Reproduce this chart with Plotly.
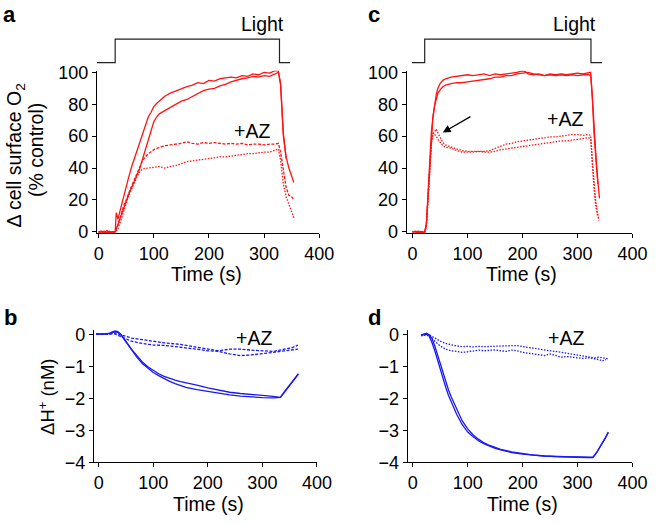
import plotly.graph_objects as go

# ---------------- DATA ----------------
# Panel a: cell surface O2 (% control), control (solid) and +AZ (dashed / dotted)
a_ctrl1_t = [0, 5, 10, 15, 20, 25, 30, 32, 35, 40, 45, 50, 55, 60, 65, 70, 75, 80, 85, 90, 95, 100, 105, 110,
             115, 120, 130, 140, 150, 160, 170, 180, 190, 200, 210, 220, 230, 240, 250, 260, 270, 280, 290,
             300, 310, 320, 326, 330, 335, 340, 345, 350, 354]
a_ctrl1_y = [0, 0.5, -0.5, 0.8, -0.3, 0.2, 0, 12, 8, 15, 22, 28, 35, 41, 46, 51, 56, 62, 67, 72, 75, 78.5, 80.5,
             82, 83.5, 85, 87, 88.5, 90, 91, 92, 93.5, 93, 95, 94.5, 96, 96.5, 97, 96.5, 98, 97.5, 99, 98.5,
             100, 99.5, 101, 101, 92, 60, 47, 40, 35, 31]
a_ctrl2_t = [0, 5, 10, 15, 20, 25, 30, 35, 40, 45, 50, 55, 60, 65, 70, 75, 80, 85, 90, 95, 100, 105, 110, 120,
             130, 140, 150, 160, 170, 180, 190, 200, 210, 220, 230, 240, 250, 260, 270, 280, 290, 300, 310,
             320, 326, 330, 335, 340]
a_ctrl2_y = [-0.5, 0.3, 0.2, -0.6, 0.4, -0.8, 0, 5, 10, 14, 20, 24, 28, 32, 36, 40, 46, 52, 58, 64, 69, 72, 74,
             76, 78, 80, 82, 83, 85, 87, 88.5, 89.5, 90, 91.5, 92.5, 94, 95, 96, 96.5, 97.5, 97, 98, 97.5,
             99, 100, 93, 62, 46]
a_az1_t = [0, 5, 10, 15, 20, 25, 30, 35, 40, 45, 50, 55, 60, 65, 70, 75, 80, 90, 100, 110, 120, 130, 140, 150,
           160, 170, 180, 190, 200, 210, 220, 230, 240, 250, 260, 270, 280, 290, 300, 310, 320, 326, 330, 335,
           340, 345, 350, 355]
a_az1_y = [0, -0.5, 0.4, 0, -0.3, 0.2, 0, 4, 10, 16, 20, 25, 29, 33, 37, 40, 45, 49, 51.5, 53, 54, 54.5, 55,
           55.5, 56.5, 55.5, 55, 56, 55.5, 56, 55.5, 55, 55.5, 55, 55.5, 54.5, 55, 55, 54.5, 55, 55, 55.5, 50,
           38, 28, 23, 22, 20]
a_az2_t = [0, 5, 10, 15, 20, 25, 30, 35, 40, 45, 50, 55, 60, 65, 70, 75, 80, 90, 100, 110, 120, 130, 140, 150,
           160, 170, 180, 190, 200, 210, 220, 230, 240, 250, 260, 270, 280, 290, 300, 310, 320, 326, 330, 335,
           340, 345, 350, 355]
a_az2_y = [0.3, 0, -0.4, 0.2, 0, -0.3, 0, 2, 7, 13, 18, 23, 27, 32, 35, 38, 39.5, 40, 40.5, 41, 40, 41, 41.5,
           43, 44, 44.5, 45, 45.5, 46, 46.5, 47, 47, 47.5, 48, 48.5, 49, 49, 49.5, 50, 50, 51, 52, 45, 30,
           22, 17, 12, 8]

# Panel c
c_ctrl1_t = [0, 5, 10, 15, 20, 22, 25, 28, 31, 34, 37, 40, 43, 46, 50, 55, 60, 70, 80, 90, 100, 110, 120, 130,
             140, 150, 160, 170, 180, 190, 200, 205, 210, 220, 230, 240, 250, 260, 270, 280, 290, 300, 310,
             320, 324, 327, 330, 334, 337, 340]
c_ctrl1_y = [0, 0.4, -0.5, 0.3, -0.2, 0, 5, 25, 45, 62, 72, 80, 86, 90, 93, 95, 96, 97, 97.5, 98, 98.5, 98,
             98.5, 99, 98, 99, 98.5, 99, 99.5, 100, 101, 100.5, 99, 98.5, 99, 98, 99, 98.5, 99, 98.5, 99, 99.5,
             99, 100, 100, 85, 65, 45, 32, 21]
c_ctrl2_t = [0, 5, 10, 15, 20, 22, 25, 28, 31, 34, 37, 40, 43, 46, 50, 55, 60, 70, 80, 90, 100, 110, 120, 130,
             140, 150, 160, 170, 180, 190, 200, 210, 220, 230, 240, 250, 260, 270, 280, 290, 300, 310, 320,
             324, 327, 330, 334, 337]
c_ctrl2_y = [-0.3, 0, 0.4, -0.4, 0, 0, 4, 22, 42, 60, 72, 79, 84, 87, 89, 91, 92, 93, 93.5, 93.5, 94, 94.5, 95,
             95.5, 96, 97, 97, 98, 98, 99, 99.5, 100, 99, 98.5, 98, 98.5, 98, 98.5, 98, 98.5, 98, 98.5, 98.5,
             98, 84, 62, 42, 30]
c_az1_t = [0, 5, 10, 15, 20, 22, 25, 28, 31, 34, 37, 40, 43, 46, 50, 55, 60, 70, 80, 90, 100, 110, 120, 130,
           140, 150, 160, 170, 180, 190, 200, 210, 220, 230, 240, 250, 260, 270, 280, 290, 300, 310, 320, 324,
           327, 330, 333, 336, 339]
c_az1_y = [0, -0.4, 0.3, 0, -0.3, 0, 4, 22, 42, 55, 61, 63, 64.5, 62, 59, 56, 54.5, 53, 52, 51, 50.5, 50.5, 50.5,
           50.5, 51, 52.5, 54, 55, 55.5, 56.5, 57, 57.5, 58, 58.5, 59, 59.5, 59.5, 60, 60.5, 61, 61, 60.5, 61,
           60.5, 45, 30, 20, 13, 7]
c_az2_t = [0, 5, 10, 15, 20, 22, 25, 28, 31, 34, 37, 40, 43, 46, 50, 55, 60, 70, 80, 90, 100, 110, 120, 130,
           140, 150, 160, 170, 180, 190, 200, 210, 220, 230, 240, 250, 260, 270, 280, 290, 300, 310, 320, 324,
           327, 330, 333, 336, 339]
c_az2_y = [0.3, 0, -0.3, 0.2, 0, 0, 3, 20, 40, 55, 62, 61, 60, 58, 56, 54, 53, 52.5, 51, 50, 50, 50, 50.5, 50,
           50, 50.5, 51.5, 52, 52.5, 53, 53.5, 54, 54.5, 55, 55.5, 56, 56.5, 57, 57, 57.5, 58, 58.5, 59, 58.5,
           42, 27, 17, 11, 8]

# Panel b: ΔH+ (nM)
b_ctrl1_t = [-5, 0, 10, 20, 25, 30, 35, 40, 45, 50, 55, 60, 70, 80, 90, 100, 110, 120, 130, 140, 150, 160, 180,
             200, 220, 240, 260, 280, 300, 320, 333, 340, 350, 360, 366]
b_ctrl1_y = [0.03, 0.02, 0.03, 0.04, 0.07, 0.1, 0.08, 0.02, -0.08, -0.2, -0.32, -0.45, -0.65, -0.85, -1.0,
             -1.12, -1.22, -1.3, -1.37, -1.42, -1.47, -1.5, -1.58, -1.66, -1.73, -1.8, -1.84, -1.88, -1.9,
             -1.93, -1.96, -1.8, -1.58, -1.35, -1.22]
b_ctrl2_t = [-5, 0, 10, 20, 25, 30, 35, 40, 45, 50, 55, 60, 70, 80, 90, 100, 110, 120, 130, 140, 150, 160, 180,
             200, 220, 240, 260, 280, 300, 320, 333, 340, 350, 360, 366]
b_ctrl2_y = [0.02, 0.03, 0.02, 0.05, 0.09, 0.12, 0.1, 0.03, -0.1, -0.22, -0.35, -0.48, -0.7, -0.9, -1.05, -1.18,
             -1.28, -1.38, -1.46, -1.53, -1.6, -1.65, -1.72, -1.78, -1.84, -1.88, -1.92, -1.95, -1.97, -1.98,
             -1.96, -1.8, -1.57, -1.36, -1.23]
b_az1_t = [-5, 0, 20, 30, 40, 60, 80, 100, 120, 150, 180, 200, 220, 240, 260, 280, 300, 320, 340, 355, 365]
b_az1_y = [0.02, 0.02, 0.03, 0.06, 0.0, -0.1, -0.15, -0.2, -0.25, -0.3, -0.38, -0.45, -0.5, -0.45, -0.45, -0.48,
           -0.5, -0.52, -0.45, -0.4, -0.32]
b_az2_t = [-5, 0, 20, 30, 40, 60, 80, 100, 120, 150, 180, 200, 220, 240, 260, 280, 300, 320, 340, 355, 365]
b_az2_y = [0.02, 0.02, 0.02, 0.03, -0.05, -0.2, -0.27, -0.32, -0.33, -0.38, -0.45, -0.5, -0.52, -0.6, -0.65,
           -0.63, -0.6, -0.55, -0.5, -0.47, -0.45]

# Panel d
d_ctrl1_t = [15, 20, 25, 28, 30, 35, 40, 45, 50, 55, 60, 65, 70, 75, 80, 90, 95, 100, 110, 120, 130, 140, 150,
             160, 180, 200, 220, 240, 260, 280, 300, 320, 328, 335, 340, 345, 350, 356]
d_ctrl1_y = [0, 0.02, 0.05, 0.02, -0.05, -0.25, -0.5, -0.8, -1.1, -1.4, -1.65, -1.9, -2.1, -2.3, -2.5, -2.82,
             -2.95, -3.05, -3.2, -3.33, -3.42, -3.5, -3.56, -3.61, -3.69, -3.74, -3.78, -3.8, -3.82, -3.83,
             -3.84, -3.84, -3.84, -3.68, -3.55, -3.4, -3.25, -3.05]
d_ctrl2_t = [15, 20, 25, 30, 35, 40, 45, 50, 55, 60, 65, 70, 75, 80, 90, 100, 110, 120, 130, 140, 150, 160, 180,
             200, 220, 240, 260, 280, 300, 320, 328, 335, 340, 345, 350, 356]
d_ctrl2_y = [-0.02, 0.0, 0.02, 0.0, -0.12, -0.35, -0.62, -0.92, -1.22, -1.48, -1.73, -1.95, -2.15, -2.35, -2.7,
             -2.95, -3.14, -3.28, -3.39, -3.47, -3.54, -3.59, -3.67, -3.73, -3.77, -3.8, -3.82, -3.83, -3.84,
             -3.85, -3.85, -3.69, -3.56, -3.41, -3.26, -3.06]
d_az1_t = [15, 20, 25, 30, 35, 40, 50, 60, 70, 80, 90, 100, 110, 120, 130, 140, 150, 160, 170, 180, 190, 200,
           210, 220, 230, 240, 250, 260, 270, 280, 290, 300, 310, 320, 330, 340, 350, 355]
d_az1_y = [-0.02, 0.0, 0.02, 0.0, -0.05, -0.12, -0.2, -0.27, -0.32, -0.35, -0.37, -0.36, -0.38, -0.36, -0.37,
           -0.36, -0.37, -0.36, -0.35, -0.34, -0.34, -0.37, -0.4, -0.42, -0.44, -0.47, -0.5, -0.52, -0.55,
           -0.57, -0.6, -0.62, -0.65, -0.68, -0.72, -0.7, -0.72, -0.75]
d_az2_t = [15, 20, 25, 30, 35, 40, 50, 60, 70, 80, 90, 100, 110, 120, 130, 140, 150, 160, 170, 180, 190, 200,
           210, 220, 230, 240, 250, 260, 270, 280, 290, 300, 310, 320, 330, 340, 345, 352]
d_az2_y = [-0.03, -0.02, 0.0, -0.05, -0.12, -0.22, -0.35, -0.45, -0.5, -0.52, -0.55, -0.53, -0.5, -0.48, -0.5,
           -0.48, -0.47, -0.5, -0.52, -0.48, -0.5, -0.55, -0.57, -0.6, -0.62, -0.65, -0.6, -0.65, -0.7, -0.68,
           -0.7, -0.72, -0.74, -0.72, -0.75, -0.78, -0.82, -0.78]

# Light periods (s): before, on, off, after
light_a_t = [-3, 30, 30, 328, 328, 347]
light_c_t = [-1, 22, 22, 324.5, 324.5, 344.5]
light_level = [0, 0, 1, 1, 0, 0]

x_ticks = [0, 100, 200, 300, 400]
o2_ticks = [0, 20, 40, 60, 80, 100]
h_ticks = [0, -1, -2, -3, -4]

# ---------------- FIGURE ----------------
RED = "rgb(255,20,20)"
BLUE = "rgb(25,25,245)"
FONT = "Liberation Sans, Arial, Helvetica, sans-serif"
TICK = 18
TITLE = 19.5

fig = go.Figure()


def add(t, y, color, dash, xa, ya, width=1.3):
    fig.add_trace(go.Scatter(x=t, y=y, mode="lines", xaxis=xa, yaxis=ya,
                             line=dict(color=color, width=width, dash=dash),
                             hoverinfo="skip", showlegend=False))


add(a_ctrl1_t, a_ctrl1_y, RED, "solid", "x", "y")
add(a_ctrl2_t, a_ctrl2_y, RED, "solid", "x", "y")
add(a_az1_t, a_az1_y, RED, "3px,1.5px", "x", "y")
add(a_az2_t, a_az2_y, RED, "1.5px,1.5px", "x", "y")

add(c_ctrl1_t, c_ctrl1_y, RED, "solid", "x2", "y2")
add(c_ctrl2_t, c_ctrl2_y, RED, "solid", "x2", "y2")
add(c_az1_t, c_az1_y, RED, "1.5px,1.5px", "x2", "y2")
add(c_az2_t, c_az2_y, RED, "1.5px,1.5px", "x2", "y2")

add(b_ctrl1_t, b_ctrl1_y, BLUE, "solid", "x3", "y3")
add(b_ctrl2_t, b_ctrl2_y, BLUE, "solid", "x3", "y3")
add(b_az1_t, b_az1_y, BLUE, "3px,1.5px", "x3", "y3")
add(b_az2_t, b_az2_y, BLUE, "3px,1.5px", "x3", "y3")

add(d_ctrl1_t, d_ctrl1_y, BLUE, "solid", "x4", "y4")
add(d_ctrl2_t, d_ctrl2_y, BLUE, "solid", "x4", "y4")
add(d_az1_t, d_az1_y, BLUE, "1.5px,1.5px", "x4", "y4")
add(d_az2_t, d_az2_y, BLUE, "1.5px,1.5px", "x4", "y4")

add(light_a_t, light_level, "#222", "solid", "x5", "y5", width=1.2)
add(light_c_t, light_level, "#222", "solid", "x6", "y6", width=1.2)

W, H = 664, 525


def xd(p0, p1):
    return [p0 / W, p1 / W]


def yd(top, bottom):
    return [1 - bottom / H, 1 - top / H]


axis_common = dict(showline=True, linecolor="black", linewidth=1, ticks="outside", ticklen=4,
                   tickwidth=1, tickcolor="black", showgrid=False, zeroline=False,
                   tickfont=dict(family=FONT, size=TICK, color="black"))

top_dom = yd(65.0, 233.0)
bot_dom = yd(333.5, 470.5)
light_dom = yd(29.9, 59.1)

fig.update_layout(
    width=W, height=H, autosize=False,
    margin=dict(l=0, r=0, t=0, b=0),
    paper_bgcolor="white", plot_bgcolor="white",
    font=dict(family=FONT, size=TICK, color="black"),
    xaxis=dict(domain=xd(96.6, 325), range=[-3, 400], tickvals=x_ticks, anchor="y", **axis_common),
    yaxis=dict(domain=top_dom, range=[-0.7, 101], tickvals=o2_ticks, anchor="x", **axis_common),
    xaxis2=dict(domain=xd(414.8, 647), range=[-11, 400], tickvals=x_ticks, anchor="y2", **axis_common),
    yaxis2=dict(domain=top_dom, range=[-0.7, 101], tickvals=o2_ticks, anchor="x2", **axis_common),
    xaxis3=dict(domain=xd(93.3, 322.7), range=[-9, 400], tickvals=x_ticks, anchor="y3", **axis_common),
    yaxis3=dict(domain=bot_dom, range=[-4, 0.15], tickvals=h_ticks, anchor="x3", **axis_common),
    xaxis4=dict(domain=xd(415.9, 647), range=[-9.5, 400], tickvals=x_ticks, anchor="y4", **axis_common),
    yaxis4=dict(domain=bot_dom, range=[-4, 0.15], tickvals=h_ticks, anchor="x4", **axis_common),
    xaxis5=dict(domain=xd(96.6, 325), range=[-3, 400], visible=False, anchor="y5"),
    yaxis5=dict(domain=light_dom, range=[-0.1, 1.1], visible=False, anchor="x5"),
    xaxis6=dict(domain=xd(414.8, 647), range=[-11, 400], visible=False, anchor="y6"),
    yaxis6=dict(domain=light_dom, range=[-0.1, 1.1], visible=False, anchor="x6"),
)


def ann_px(text, x, y, size=TITLE, bold=False, angle=0, xanchor="center", yanchor="middle"):
    fig.add_annotation(text=("<b>%s</b>" % text) if bold else text, x=x / W, y=1 - y / H,
                       xref="paper", yref="paper", showarrow=False, textangle=angle,
                       xanchor=xanchor, yanchor=yanchor,
                       font=dict(family=FONT, size=size, color="black"))


# panel letters
ann_px("a", 7, 7, size=22, bold=True)
ann_px("c", 381, 7, size=22, bold=True)
ann_px("b", 8, 321, size=22, bold=True)
ann_px("d", 382, 321, size=22, bold=True)

# Light labels
ann_px("Light", 266.5, 17)
ann_px("Light", 587, 17)

# axis titles
ann_px("Δ cell surface O<sub>2</sub>", 13, 153, angle=-90)
ann_px("(% control)", 34, 147, angle=-90)
ann_px("ΔH<sup>+</sup> (nM)", 45, 403, size=18.5, angle=-90)
ann_px("Time (s)", 209, 275)
ann_px("Time (s)", 533, 275)
ann_px("Time (s)", 211, 514)
ann_px("Time (s)", 534, 514)

# +AZ labels in data coordinates
for xr, yr, xv, yv in [("x", "y", 279, 63.5), ("x2", "y2", 277, 71), ("x3", "y3", 284, -0.1),
                       ("x4", "y4", 279, -0.1)]:
    fig.add_annotation(text="+AZ", x=xv, y=yv, xref=xr, yref=yr, showarrow=False,
                       font=dict(family=FONT, size=TITLE, color="black"))

# arrow in panel c
fig.add_annotation(x=55, y=62.3, ax=108, ay=72.8, xref="x2", yref="y2", axref="x2", ayref="y2",
                   showarrow=True, arrowhead=2, arrowsize=1.3, arrowwidth=1.2, arrowcolor="black", text="")

# place the 664x525 figure at the page origin (no default body margin)
fig.write_html("out.html", config={"displayModeBar": False},
               post_script="document.body.style.margin='0px';document.body.style.overflow='hidden';")
